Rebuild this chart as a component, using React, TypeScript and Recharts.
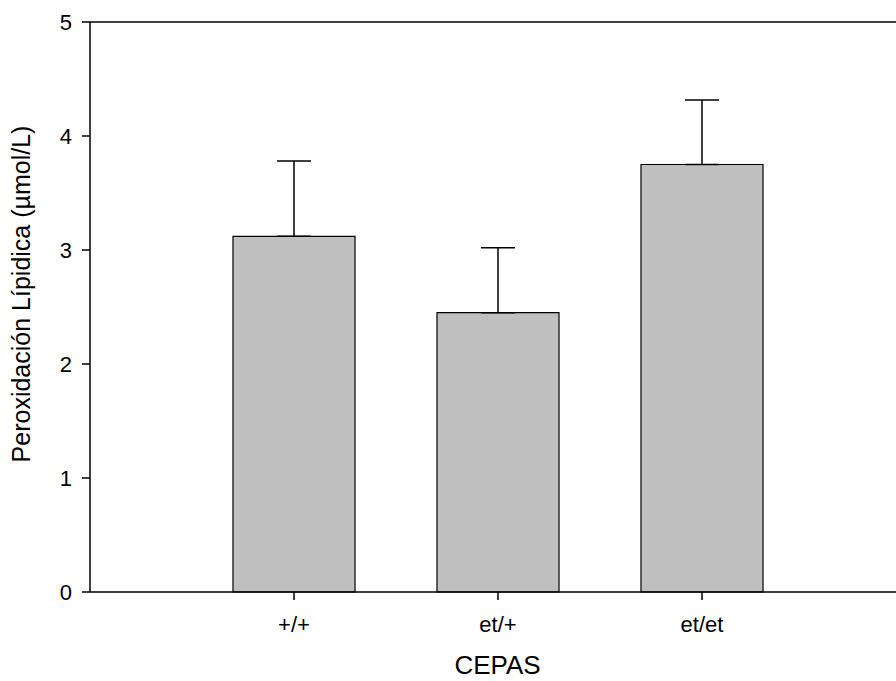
import React from 'react';
import { BarChart, Bar, XAxis, YAxis, ErrorBar, ReferenceLine } from 'recharts';

// Lipid peroxidation per strain (mean + SD, upper whisker only)
const strains = ['+/+', 'et/+', 'et/et'];
const positions = [1, 2, 3];
const means = [3.12, 2.45, 3.75];
const sd = [0.66, 0.57, 0.565];
const yTicks = [0, 1, 2, 3, 4, 5];

const data = strains.map((name, i) => ({
  x: positions[i],
  name,
  value: means[i],
  err: [0, sd[i]],
}));

const FONT = '"Liberation Sans", Arial, sans-serif';

const YTitle = () => (
  <text
    x={0}
    y={0}
    transform="translate(30, 294) rotate(-90)"
    textAnchor="middle"
    fontSize={25}
    fontFamily={FONT}
    fill="#000"
  >
    Peroxidación Lípidica (µmol/L)
  </text>
);

const XTitle = () => (
  <text x={497.5} y={674} textAnchor="middle" fontSize={26} fontFamily={FONT} fill="#000">
    CEPAS
  </text>
);

export default function App() {
  return (
    <div
      style={{
        position: 'absolute',
        left: 0,
        top: 0,
        width: 896,
        height: 681,
        overflow: 'hidden',
        background: '#fff',
        fontFamily: FONT,
      }}
    >
      <BarChart
        width={906}
        height={681}
        data={data}
        margin={{ top: 22, right: 0, bottom: 0, left: 0 }}
      >
        <XAxis
          dataKey="x"
          type="number"
          domain={[0, 4]}
          ticks={positions}
          tickFormatter={(v: number) => strains[positions.indexOf(v)] ?? ''}
          height={89}
          tickSize={8}
          tickMargin={16}
          axisLine={{ stroke: '#000', strokeWidth: 1.5 }}
          tickLine={{ stroke: '#000', strokeWidth: 1.5 }}
          tick={{ fill: '#000', fontSize: 22, fontFamily: FONT }}
          label={{ content: () => <XTitle /> }}
        />
        <YAxis
          domain={[0, 5]}
          ticks={yTicks}
          width={90}
          tickSize={8}
          tickMargin={10}
          axisLine={{ stroke: '#000', strokeWidth: 1.5 }}
          tickLine={{ stroke: '#000', strokeWidth: 1.5 }}
          tick={{ fill: '#000', fontSize: 22, fontFamily: FONT }}
          label={{ content: () => <YTitle /> }}
        />
        {/* top frame line */}
        <ReferenceLine y={5} stroke="#000" strokeWidth={1.5} ifOverflow="visible" />
        <Bar
          dataKey="value"
          barSize={122}
          fill="#c0c0c0"
          stroke="#000"
          strokeWidth={1.2}
          isAnimationActive={false}
        >
          <ErrorBar
            dataKey="err"
            direction="y"
            width={17}
            stroke="#000"
            strokeWidth={1.5}
            isAnimationActive={false}
          />
        </Bar>
      </BarChart>
    </div>
  );
}
